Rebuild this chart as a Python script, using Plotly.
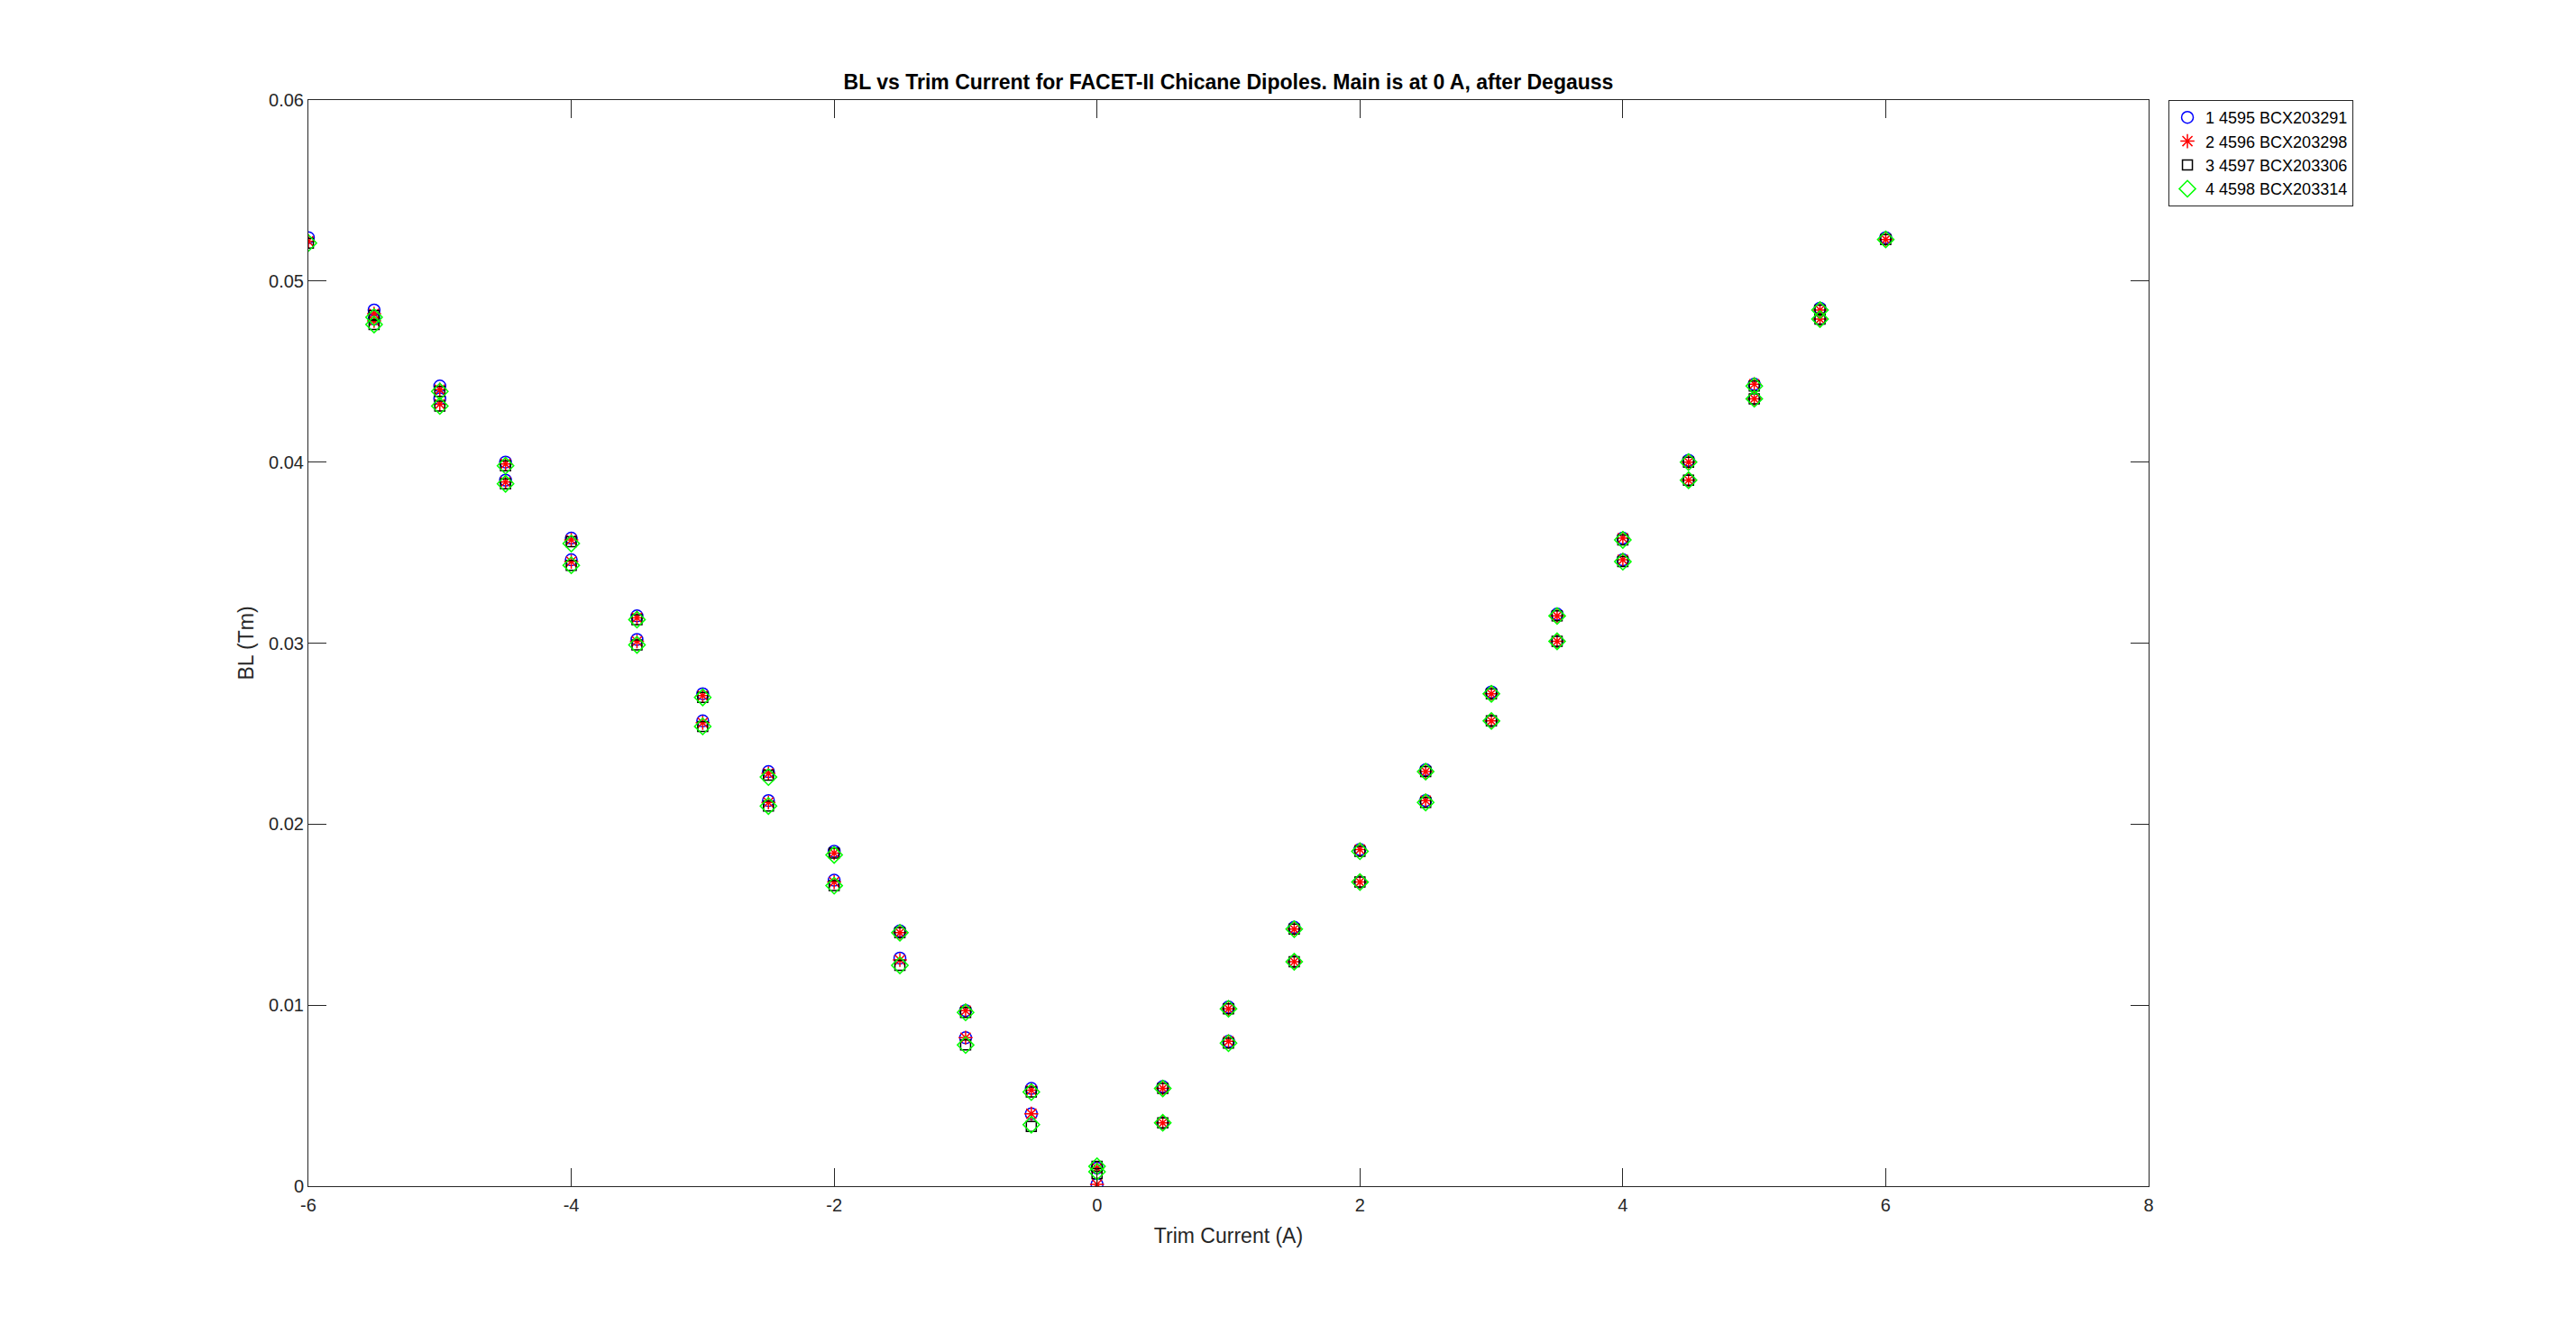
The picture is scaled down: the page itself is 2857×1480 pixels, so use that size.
import plotly.graph_objects as go

# Trim current set points (A)
current_upper = [-6, -5.5, -5, -4.5, -4, -3.5, -3, -2.5, -2, -1.5, -1, -0.5, 0,
                 0.5, 1, 1.5, 2, 2.5, 3, 3.5, 4, 4.5, 5, 5.5, 6]
current_lower = [-5.5, -5, -4.5, -4, -3.5, -3, -2.5, -2, -1.5, -1, -0.5, 0,
                 0.5, 1, 1.5, 2, 2.5, 3, 3.5, 4, 4.5, 5, 5.5]

# BL (Tm), magnet 1: 4595 BCX203291
bl_upper_1 = [0.0524, 0.0484, 0.0442, 0.0400, 0.0358, 0.0315, 0.0272, 0.0229, 0.0185, 0.0141, 0.0097, 0.0054, 0.0010,
              0.0055, 0.0099, 0.0143, 0.0186, 0.0230, 0.0273, 0.0316, 0.0358, 0.0401, 0.0443, 0.0485, 0.0524]
bl_lower_1 = [0.0479, 0.0435, 0.0390, 0.0346, 0.0302, 0.0257, 0.0213, 0.0169, 0.0126, 0.0082, 0.0040, 0.0001,
              0.0035, 0.0080, 0.0124, 0.0168, 0.0213, 0.0257, 0.0301, 0.0346, 0.0390, 0.0435, 0.0479]
# magnet 2: 4596 BCX203298
bl_upper_2 = [0.0522, 0.0482, 0.0440, 0.0399, 0.0357, 0.0314, 0.0271, 0.0228, 0.0184, 0.0140, 0.0097, 0.0053, 0.0010,
              0.0054, 0.0098, 0.0142, 0.0186, 0.0229, 0.0272, 0.0315, 0.0358, 0.0400, 0.0443, 0.0484, 0.0523]
bl_lower_2 = [0.0478, 0.0432, 0.0389, 0.0345, 0.0301, 0.0256, 0.0212, 0.0168, 0.0125, 0.0082, 0.0040, 0.0001,
              0.0035, 0.0080, 0.0124, 0.0168, 0.0213, 0.0257, 0.0301, 0.0346, 0.0390, 0.0435, 0.0479]
# magnet 3: 4597 BCX203306
bl_upper_3 = [0.0521, 0.0481, 0.0439, 0.0398, 0.0356, 0.0313, 0.0270, 0.0227, 0.0184, 0.0140, 0.0096, 0.0052, 0.0011,
              0.0054, 0.0098, 0.0142, 0.0185, 0.0229, 0.0272, 0.0315, 0.0357, 0.0400, 0.0442, 0.0484, 0.0523]
bl_lower_3 = [0.0476, 0.0431, 0.0388, 0.0343, 0.0299, 0.0254, 0.0210, 0.0166, 0.0122, 0.0078, 0.0033, 0.0007,
              0.0035, 0.0079, 0.0124, 0.0168, 0.0212, 0.0257, 0.0301, 0.0345, 0.0390, 0.0435, 0.0479]
# magnet 4: 4598 BCX203314
bl_upper_4 = [0.0521, 0.0480, 0.0439, 0.0398, 0.0355, 0.0313, 0.0270, 0.0226, 0.0183, 0.0140, 0.0096, 0.0052, 0.0011,
              0.0054, 0.0098, 0.0142, 0.0185, 0.0229, 0.0272, 0.0315, 0.0357, 0.0400, 0.0442, 0.0484, 0.0523]
bl_lower_4 = [0.0476, 0.0431, 0.0388, 0.0343, 0.0299, 0.0254, 0.0210, 0.0166, 0.0122, 0.0078, 0.0034, 0.0008,
              0.0035, 0.0079, 0.0124, 0.0168, 0.0212, 0.0257, 0.0301, 0.0345, 0.0390, 0.0435, 0.0479]

series_names = ["1 4595 BCX203291", "2 4596 BCX203298", "3 4597 BCX203306", "4 4598 BCX203314"]
x_ticks = [-6, -4, -2, 0, 2, 4, 6, 8]
x_tick_text = ["-6", "-4", "-2", "0", "2", "4", "6", "8"]
y_ticks = [0, 0.01, 0.02, 0.03, 0.04, 0.05, 0.06]
y_tick_text = ["0", "0.01", "0.02", "0.03", "0.04", "0.05", "0.06"]

styles = [
    dict(symbol="circle-open", color="#0000FF", size=13),
    dict(symbol="asterisk-open", color="#FF0000", size=13),
    dict(symbol="square-open", color="#000000", size=11),
    dict(symbol="diamond-open", color="#00FF00", size=14),
]
uppers = [bl_upper_1, bl_upper_2, bl_upper_3, bl_upper_4]
lowers = [bl_lower_1, bl_lower_2, bl_lower_3, bl_lower_4]

fig = go.Figure()
for name, st, up, lo in zip(series_names, styles, uppers, lowers):
    fig.add_trace(go.Scatter(
        x=current_upper + current_lower,
        y=up + lo,
        mode="markers",
        name=name,
        marker=dict(symbol=st["symbol"], size=st["size"], color=st["color"],
                    line=dict(color=st["color"], width=1.5)),
    ))

axis_color = "#262626"
font_family = "Liberation Sans, Arial, Helvetica, sans-serif"

# page body has an 8 px default margin; compensate so the plot lands where the reference is
fig.update_layout(
    width=2857, height=1480,
    paper_bgcolor="white", plot_bgcolor="white",
    margin=dict(l=334, r=482, t=103, b=172, autoexpand=False),
    font=dict(family=font_family, size=20, color=axis_color),
    title=dict(text="<b>BL vs Trim Current for FACET-II Chicane Dipoles. Main is at 0 A, after Degauss</b>",
               x=0.5, xref="paper", xanchor="center", y=(1480 - 83) / 1480, yref="container", yanchor="middle",
               font=dict(size=23, color="#000000", family=font_family)),
    showlegend=True,
    legend=dict(x=1.0108, xanchor="left", y=1.0, yanchor="top",
                bordercolor=axis_color, borderwidth=1, bgcolor="white",
                font=dict(size=18, color="#000000"), tracegroupgap=0,
                itemwidth=30),
)

fig.update_xaxes(
    range=[-6, 8], tickmode="array", tickvals=x_ticks, ticktext=x_tick_text,
    showgrid=False, zeroline=False,
    showline=True, linecolor=axis_color, linewidth=1, mirror="ticks",
    ticks="inside", ticklen=20, tickwidth=1, tickcolor=axis_color,
    tickfont=dict(size=20, color=axis_color), ticklabelstandoff=3,
    title=dict(text="Trim Current (A)", font=dict(size=23, color=axis_color), standoff=15),
)
fig.update_yaxes(
    range=[0, 0.06], tickmode="array", tickvals=y_ticks, ticktext=y_tick_text,
    showgrid=False, zeroline=False,
    showline=True, linecolor=axis_color, linewidth=1, mirror="ticks",
    ticks="inside", ticklen=20, tickwidth=1, tickcolor=axis_color,
    tickfont=dict(size=20, color=axis_color),
    title=dict(text="BL (Tm)", font=dict(size=23, color=axis_color), standoff=10),
)

fig.write_html("out.html")
